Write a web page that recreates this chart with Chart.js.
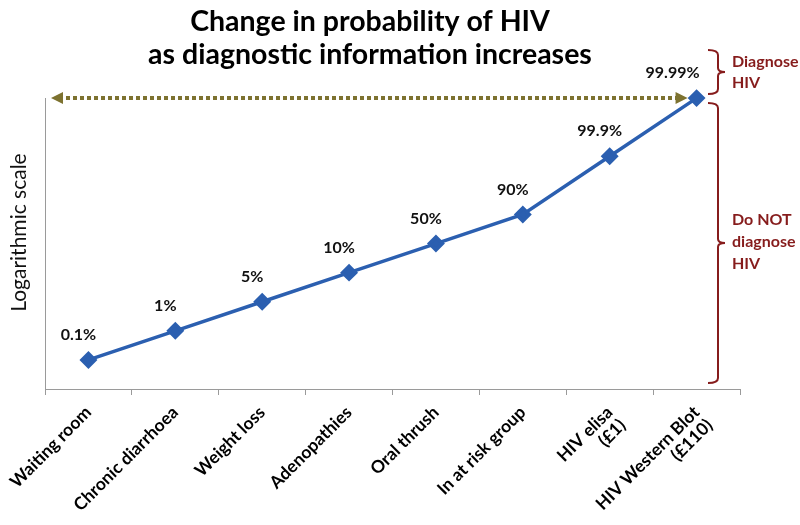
<!DOCTYPE html>
<html>
<head>
<meta charset="utf-8">
<script src="https://cdn.jsdelivr.net/npm/chart.js@4"></script>
<style>
html,body{margin:0;padding:0;background:#fff;}
#c{display:block;}
</style>
</head>
<body>
<canvas id="c" width="800" height="525"></canvas>
<script>
// ---- data ----
const categories = ['Waiting room','Chronic diarrhoea','Weight loss','Adenopathies','Oral thrush','In at risk group',['HIV elisa','(£1)'],['HIV Western Blot','(£110)']];
// position on the (unlabelled) logarithmic scale
const levels = [0, 1, 2, 3, 4, 5, 7, 9];
const probabilityLabels = ['0.1%','1%','5%','10%','50%','90%','99.9%','99.99%'];
const titleLines = ['Change in probability of HIV','as diagnostic information increases'];
const yAxisTitle = 'Logarithmic scale';
const bracketTop = ['Diagnose','HIV'];
const bracketBottom = ['Do NOT','diagnose','HIV'];

const FONT = 'Lato, "Open Sans", sans-serif';
const BLUE = '#2B5FB0';
const OLIVE = '#7D7230';
const DARKRED = '#861C1C';

const overlay = {
  id: 'overlay',
  afterDatasetsDraw(chart) {
    const ctx = chart.ctx;
    const pts = chart.getDatasetMeta(0).data;
    ctx.save();
    ctx.fillStyle = '#111';
    ctx.font = 'bold 16px ' + FONT;
    ctx.textAlign = 'center';
    ctx.textBaseline = 'middle';
    pts.forEach((p, i) => {
      const last = i === pts.length - 1;
      const dx = last ? -24 : -10;
      ctx.fillText(probabilityLabels[i], p.x + dx, p.y - 25);
    });
    ctx.restore();
  },
  afterDraw(chart) {
    const ctx = chart.ctx;
    const area = chart.chartArea;
    const pts = chart.getDatasetMeta(0).data;
    const lastP = pts[pts.length - 1];
    const yTop = chart.scales.y.getPixelForValue(chart.scales.y.max);
    ctx.save();
    // y axis title
    ctx.save();
    ctx.translate(19, (area.top + area.bottom) / 2 - 11);
    ctx.rotate(-Math.PI / 2);
    ctx.fillStyle = '#111';
    ctx.font = '21px ' + FONT;
    ctx.textAlign = 'center';
    ctx.textBaseline = 'middle';
    ctx.fillText(yAxisTitle, 0, 0);
    ctx.restore();

    // dotted double arrow
    const x1 = area.left + 6, x2 = lastP.x - 9;
    ctx.strokeStyle = OLIVE;
    ctx.lineWidth = 4;
    ctx.setLineDash([4, 3]);
    ctx.beginPath();
    ctx.moveTo(x1 + 8, yTop);
    ctx.lineTo(x2 - 8, yTop);
    ctx.stroke();
    ctx.setLineDash([]);
    ctx.fillStyle = OLIVE;
    ctx.beginPath();
    ctx.moveTo(x1, yTop); ctx.lineTo(x1 + 12, yTop - 6); ctx.lineTo(x1 + 12, yTop + 6); ctx.closePath(); ctx.fill();
    ctx.beginPath();
    ctx.moveTo(x2, yTop); ctx.lineTo(x2 - 12, yTop - 6); ctx.lineTo(x2 - 12, yTop + 6); ctx.closePath(); ctx.fill();

    // curly brackets
    const bx = area.right - 22;
    function brace(top, bottom) {
      const mid = (top + bottom) / 2;
      ctx.beginPath();
      ctx.moveTo(bx - 10, top);
      ctx.quadraticCurveTo(bx, top, bx, top + 5);
      ctx.lineTo(bx, mid - 4);
      ctx.quadraticCurveTo(bx, mid, bx + 7, mid);
      ctx.quadraticCurveTo(bx, mid, bx, mid + 4);
      ctx.lineTo(bx, bottom - 5);
      ctx.quadraticCurveTo(bx, bottom, bx - 10, bottom);
      ctx.stroke();
      return mid;
    }
    ctx.strokeStyle = DARKRED;
    ctx.lineWidth = 2;
    const m1 = brace(yTop - 48, yTop - 4);
    const m2 = brace(yTop + 5, area.bottom - 6);
    ctx.fillStyle = DARKRED;
    ctx.font = 'bold 16px ' + FONT;
    ctx.textAlign = 'left';
    ctx.textBaseline = 'middle';
    const tx = bx + 14;
    bracketTop.forEach((t, i) => ctx.fillText(t, tx, m1 - 10 + i * 21));
    bracketBottom.forEach((t, i) => ctx.fillText(t, tx, m2 - 23 + i * 22));
    ctx.restore();
  }
};

new Chart(document.getElementById('c'), {
  type: 'line',
  data: {
    labels: categories,
    datasets: [{
      data: levels,
      borderColor: BLUE,
      backgroundColor: BLUE,
      borderWidth: 3.5,
      pointStyle: 'rectRot',
      pointRadius: 6.5,
      pointHoverRadius: 6.5,
      pointBackgroundColor: BLUE,
      pointBorderColor: BLUE,
      tension: 0,
      clip: false
    }]
  },
  options: {
    responsive: false,
    animation: false,
    events: [],
    layout: { padding: { left: 0, right: 60, top: 0, bottom: 0 } },
    plugins: {
      legend: { display: false },
      tooltip: { enabled: false },
      title: {
        display: true,
        text: titleLines,
        color: '#000',
        font: { family: FONT, size: 28.5, weight: 'bold', lineHeight: 1.16 },
        padding: { top: 5, bottom: 27 }
      }
    },
    scales: {
      x: {
        offset: true,
        grid: { display: true, offset: true, drawOnChartArea: false, drawTicks: true, tickLength: 6, color: '#9A9A9A' },
        border: { display: true, color: '#9A9A9A', width: 1 },
        ticks: {
          autoSkip: false, minRotation: 45, maxRotation: 45,
          color: '#000', padding: 8,
          font: { family: FONT, size: 17.5, weight: 'bold', lineHeight: 1.05 }
        },
        afterFit(s) { s.height = 136; }
      },
      y: {
        min: -1, max: 9,
        grid: { display: false },
        border: { display: true, color: '#9A9A9A', width: 1 },
        ticks: { display: false },
        title: { display: false },
        afterFit(s) { s.width = 45; }
      }
    }
  },
  plugins: [overlay]
});
</script>
</body>
</html>
